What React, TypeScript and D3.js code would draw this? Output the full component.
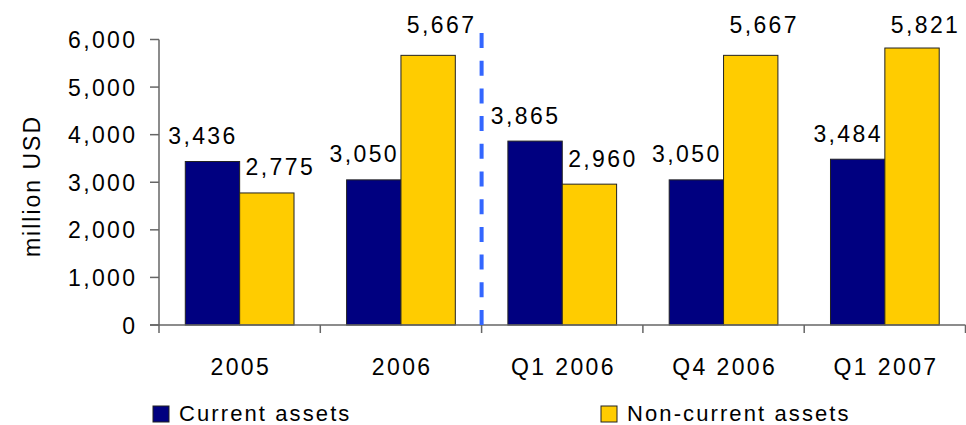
import React from "react";
import * as d3 from "d3";

const categories = ["2005", "2006", "Q1 2006", "Q4 2006", "Q1 2007"];
const currentAssets = [3436, 3050, 3865, 3050, 3484];
const nonCurrentAssets = [2775, 5667, 2960, 5667, 5821];
const seriesNames = ["Current assets", "Non-current assets"];
const seriesColors = ["#000080", "#FFCC00"];
const yTicks = [0, 1000, 2000, 3000, 4000, 5000, 6000];
const yTitle = "million USD";

const W = 966;
const H = 425;
const left = 159;
const right = 965.5;
const top = 39.5;
const bottom = 325;
const FONT = "'Liberation Sans', Arial, sans-serif";
const FS = 23;
const LS = 2.4;

export default function App() {
  const x = d3.scaleBand<string>().domain(categories).range([left, right]).padding(0);
  const bw = x.bandwidth();
  const inner = d3.scaleBand<number>().domain([0, 1]).range([bw * 0.163, bw * (1 - 0.163)]).padding(0);
  const y = d3.scaleLinear().domain([0, 6000]).range([bottom, top]);
  const fmt = d3.format(",");
  const series = [currentAssets, nonCurrentAssets];
  const labelDx = [-9.5, 13.5];
  const dividerX = x(categories[2])!;

  return (
    <svg
      width={W}
      height={H}
      style={{ position: "absolute", left: 0, top: 0, background: "#fff" }}
      fontFamily={FONT}
    >
      {/* bars */}
      {series.map((vals, si) =>
        vals.map((v, i) => {
          const bx = x(categories[i])! + inner(si)!;
          const by = y(v);
          return (
            <rect
              key={`b${si}-${i}`}
              x={bx}
              y={by}
              width={inner.bandwidth()}
              height={bottom - by}
              fill={seriesColors[si]}
              stroke="#222"
              strokeWidth={1}
            />
          );
        })
      )}
      {/* axes */}
      <line x1={left} x2={left} y1={top} y2={bottom + 8} stroke="#666" strokeWidth={1.5} />
      <line x1={left - 9} x2={right} y1={bottom} y2={bottom} stroke="#666" strokeWidth={1.5} />
      {yTicks.map((t) => (
        <g key={`yt${t}`}>
          <line x1={left - 9} x2={left} y1={y(t)} y2={y(t)} stroke="#666" strokeWidth={1.5} />
          <text
            x={137.5}
            y={y(t) + 8.5}
            textAnchor="end"
            fontSize={FS}
            letterSpacing={LS}
            fill="#000"
          >
            {fmt(t)}
          </text>
        </g>
      ))}
      {categories.map((c) => (
        <g key={`xc${c}`}>
          <line
            x1={x(c)! + bw}
            x2={x(c)! + bw}
            y1={bottom}
            y2={bottom + 8}
            stroke="#666"
            strokeWidth={1.5}
          />
          <text
            x={x(c)! + bw / 2 + LS / 2}
            y={375}
            textAnchor="middle"
            fontSize={FS}
            letterSpacing={LS}
            fill="#000"
          >
            {c}
          </text>
        </g>
      ))}
      {/* divider */}
      <line
        x1={dividerX}
        x2={dividerX}
        y1={33}
        y2={bottom}
        stroke="#3366FF"
        strokeWidth={4}
        strokeDasharray="15 12.7"
      />
      {/* value labels */}
      {series.map((vals, si) =>
        vals.map((v, i) => {
          const cx = x(categories[i])! + inner(si)! + inner.bandwidth() / 2 + labelDx[si];
          const raw = y(v) - 17.5;
          const base = raw < top ? 33 : raw;
          return (
            <text
              key={`l${si}-${i}`}
              x={cx}
              y={base}
              textAnchor="middle"
              fontSize={FS}
              letterSpacing={LS}
              fill="#000"
            >
              {fmt(v)}
            </text>
          );
        })
      )}
      {/* y title */}
      <text
        transform={`translate(40,186) rotate(-90)`}
        textAnchor="middle"
        fontSize={FS}
        letterSpacing={2}
        fill="#000"
      >
        {yTitle}
      </text>
      {/* legend */}
      {seriesNames.map((n, si) => {
        const lx = si === 0 ? 153 : 601;
        return (
          <g key={`lg${si}`}>
            <rect x={lx} y={406} width={16} height={16} fill={seriesColors[si]} stroke="#222" strokeWidth={1} />
            <text x={lx + 26} y={421} fontSize={22} letterSpacing={2.1} fill="#000">
              {n}
            </text>
          </g>
        );
      })}
    </svg>
  );
}
